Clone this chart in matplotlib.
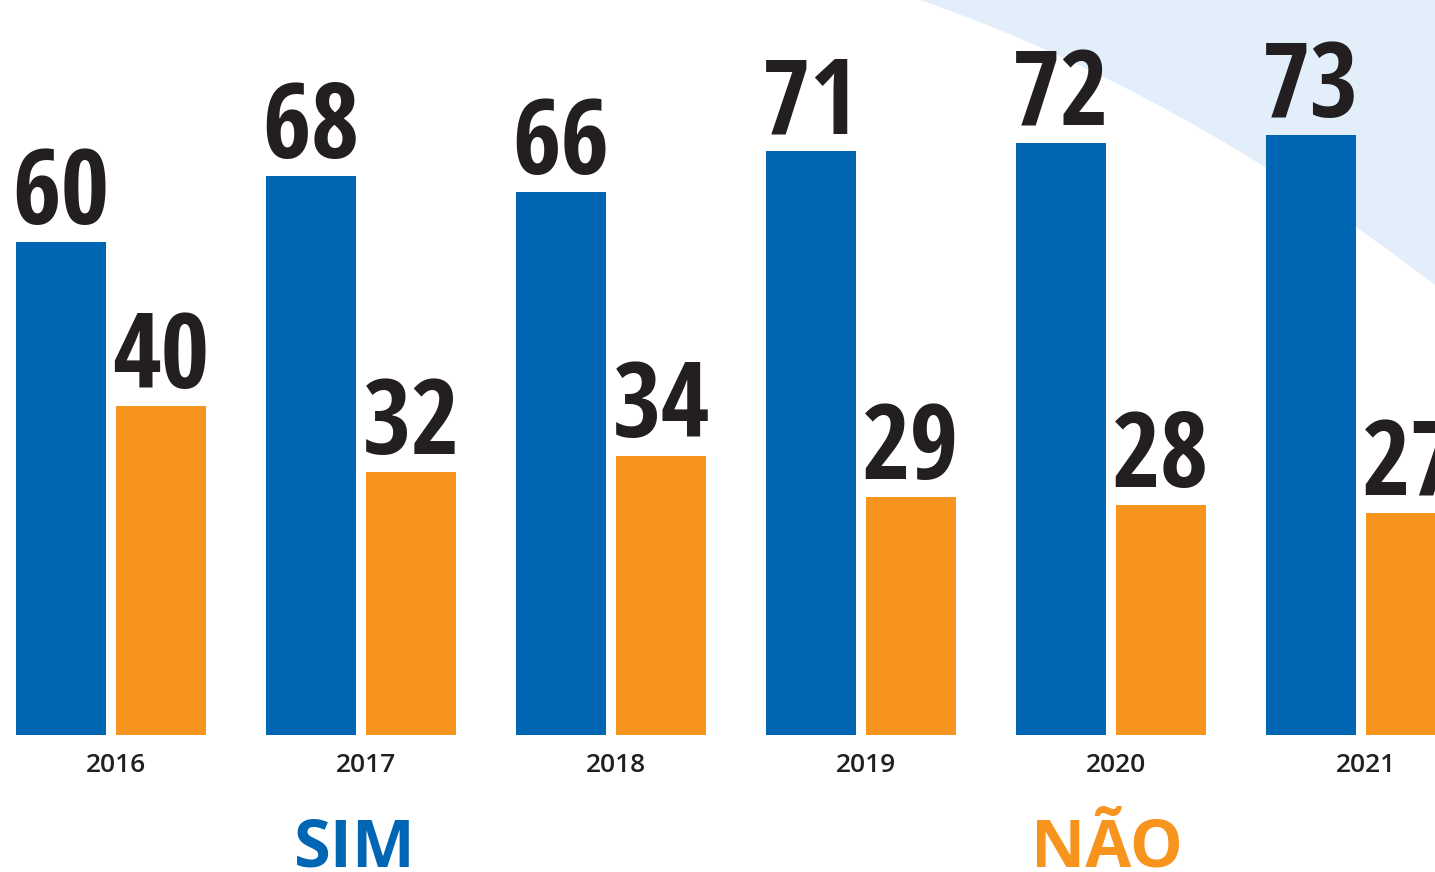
import matplotlib
matplotlib.use("Agg")
import matplotlib.pyplot as plt
from matplotlib import font_manager
from matplotlib.font_manager import FontProperties
from matplotlib.textpath import TextPath
from matplotlib.path import Path
from matplotlib.patches import PathPatch
import numpy as np

# data
years = ['2016', '2017', '2018', '2019', '2020', '2021']
sim = [60, 68, 66, 71, 72, 73]
nao = [40, 32, 34, 29, 28, 27]
legend_labels = ['SIM', 'NÃO']

blue = '#0066B3'
orange = '#F7941E'
dark = '#231F20'

# pick the narrowest heavy sans face among the plain families
families = ('DejaVu Sans', 'Liberation Sans', 'Noto Sans', 'Roboto', 'Open Sans', 'Lato', 'Inter')
best = None
for f in font_manager.fontManager.ttflist:
    if not f.name.startswith(families) or 'CJK' in f.name or 'Mono' in f.name:
        continue
    if f.style != 'normal' or f.weight not in ('bold', 700, 800, 900, 'heavy', 'black'):
        continue
    try:
        ext = TextPath((0, 0), '68', size=100,
                       prop=FontProperties(fname=f.fname)).get_extents()
    except Exception:
        continue
    if ext.height <= 0:
        continue
    ratio = ext.width / ext.height
    if best is None or ratio < best[0]:
        best = (ratio, f.fname, ext.width, ext.height)

if best is not None:
    num_prop = FontProperties(fname=best[1])
    # digits ~100 px tall but at most ~90 px wide (px at dpi 100)
    em_px = min(100 / (best[3] / 100), 90 / (best[2] / 100))
    num_prop.set_size(em_px * 72 / 100)
else:
    num_prop = FontProperties(family='DejaVu Sans', weight='bold', size=52)

names = {f.name for f in font_manager.fontManager.ttflist}
lab_font = 'Open Sans' if 'Open Sans' in names else 'DejaVu Sans'

W, H = 1435, 872
fig = plt.figure(figsize=(W / 100, H / 100), dpi=100)
fig.patch.set_facecolor('white')

base = 735
ax = fig.add_axes([0, (H - base) / H, 1, base / H])
ax.patch.set_alpha(0)

# light blue swoosh top right (figure pixels)
verts = [(920, 0), (1180, 90), (1435, 285), (1435, 0), (920, 0)]
codes = [Path.MOVETO, Path.CURVE3, Path.CURVE3, Path.LINETO, Path.CLOSEPOLY]
verts = [(px / W, 1 - py / H) for px, py in verts]
ax.add_patch(PathPatch(Path(verts, codes), transform=fig.transFigure, clip_on=False,
                       facecolor='#E2EEFA', edgecolor='none', zorder=0))

x = np.arange(len(years))
w = 0.36
b1 = ax.bar(x - 0.2, sim, width=w, color=blue, zorder=2)
b2 = ax.bar(x + 0.2, nao, width=w, color=orange, zorder=2)

for bars, vals in ((b1, sim), (b2, nao)):
    for r, v in zip(bars, vals):
        ax.annotate(str(v), (r.get_x() + r.get_width() / 2, v),
                    xytext=(0, 13), textcoords='offset points',
                    ha='center', va='baseline', fontproperties=num_prop,
                    color=dark, zorder=3, annotation_clip=False)

ax.set_xlim(-111 / 250, (W - 111) / 250)
ax.set_ylim(0, base / 8.22)
for s in ax.spines.values():
    s.set_visible(False)
ax.set_yticks([])
ax.set_xticks(x + 0.02)
ax.set_xticklabels(years, family=lab_font, weight='semibold', fontsize=19, color=dark)
ax.tick_params(axis='x', length=0, pad=13)

fig.text(355 / W, 6 / H, legend_labels[0], ha='center', va='baseline',
         family=lab_font, weight='bold', fontsize=48, color=blue)
fig.text(1107 / W, 6 / H, legend_labels[1], ha='center', va='baseline',
         family=lab_font, weight='bold', fontsize=48, color=orange)

fig.savefig('out.png', dpi=100, facecolor='white')
